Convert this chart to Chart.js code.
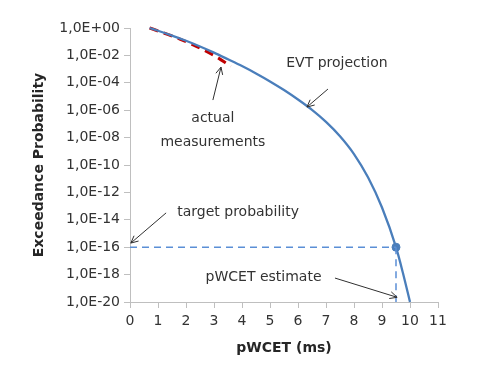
<!DOCTYPE html>
<html>
<head>
<meta charset="utf-8">
<script src="https://cdn.jsdelivr.net/npm/chart.js@4"></script>
<style>
    body { margin: 0; background: white; }
    canvas { display: block; }
</style>
</head>
<body>
<canvas id="chart" width="499" height="367"></canvas>
<script>
// DATA

// EVT projection curve (pWCET in ms, exceedance probability)
const evtTimes = [0.7, 1.0, 1.5, 2.0, 2.5, 3.0, 3.5, 4.0, 4.5, 5.0, 5.5, 6.0, 6.5, 7.0, 7.5, 8.0, 8.5, 9.0, 9.5, 9.75, 10.0];
const evtProbs = [1, 6.3e-1, 2.8e-1, 1.17e-1, 4.5e-2, 1.6e-2, 5.2e-3, 1.66e-3, 4.8e-4, 1.26e-4, 2.95e-5, 6e-6, 1.05e-6, 1.4e-7, 1.26e-8, 6.3e-10, 1.26e-11, 7.9e-14, 1e-16, 1.26e-18, 1e-20];

// actual measurements
const measuredTimes = [0.7, 1.8, 3.0, 3.6];
const measuredProbs = [1, 1.5e-1, 1e-2, 1.6e-3];

// target probability and the resulting estimate
const targetProb = 1e-16;
const pwcetEstimate = 9.5;

const yTickExponents = [0, -2, -4, -6, -8, -10, -12, -14, -16, -18, -20];
const xTicks = [0, 1, 2, 3, 4, 5, 6, 7, 8, 9, 10, 11];

// text notes with arrows, in data units
const notes = [
    { lines: [["EVT projection", 7.39, 2.8e-3]], from: [7.07, 3.5e-5], to: [6.32, 1.7e-6] },
    { lines: [["actual", 2.96, 2.7e-7], ["measurements", 2.96, 4.8e-9]], from: [2.96, 5.5e-6], to: [3.25, 1.4e-3] },
    { lines: [["target probability", 3.86, 3.7e-14]], from: [1.29, 3.2e-14], to: [0.03, 2e-16] },
    { lines: [["pWCET estimate", 4.77, 6.6e-19]], from: [7.32, 5.6e-19], to: [9.54, 2.2e-20] },
];

// HELPERS

const axisGray = "#bfbfbf";
const textGray = "#333333";
const lineBlue = "#4a7ebb";

function toPoints(xs, ys) {
    return xs.map((x, i) => ({ x: x, y: ys[i] }));
}

function formatProb(value) {
    const exp = Math.round(Math.log10(value));
    const sign = exp < 0 ? "-" : "+";
    const digits = String(Math.abs(exp)).padStart(2, "0");
    return "1,0E" + sign + digits;
}

function drawArrow(ctx, x1, y1, x2, y2) {
    const angle = Math.atan2(y2 - y1, x2 - x1);
    const head = 8;
    ctx.beginPath();
    ctx.moveTo(x1, y1);
    ctx.lineTo(x2, y2);
    ctx.moveTo(x2 - head * Math.cos(angle - 0.45), y2 - head * Math.sin(angle - 0.45));
    ctx.lineTo(x2, y2);
    ctx.lineTo(x2 - head * Math.cos(angle + 0.45), y2 - head * Math.sin(angle + 0.45));
    ctx.stroke();
}

const notesPlugin = {
    id: "notes",
    afterDatasetsDraw(chart) {
        const ctx = chart.ctx;
        const xs = chart.scales.x;
        const ys = chart.scales.y;
        ctx.save();
        ctx.font = "14px 'DejaVu Sans'";
        ctx.fillStyle = textGray;
        ctx.strokeStyle = "#303030";
        ctx.lineWidth = 1;
        ctx.textAlign = "center";
        ctx.textBaseline = "middle";
        notes.forEach(note => {
            note.lines.forEach(([text, x, y]) => {
                ctx.fillText(text, xs.getPixelForValue(x), ys.getPixelForValue(y));
            });
            drawArrow(ctx,
                xs.getPixelForValue(note.from[0]), ys.getPixelForValue(note.from[1]),
                xs.getPixelForValue(note.to[0]), ys.getPixelForValue(note.to[1]));
        });
        ctx.restore();
    }
};

// CHART

new Chart(document.getElementById("chart"), {
    type: "line",
    plugins: [notesPlugin],
    data: {
        datasets: [
            {
                data: [{ x: 0, y: targetProb }, { x: pwcetEstimate, y: targetProb }],
                borderColor: "#5b8fd6",
                borderWidth: 1.5,
                borderDash: [7, 5],
                pointRadius: 0,
            },
            {
                data: [{ x: pwcetEstimate, y: targetProb }, { x: pwcetEstimate, y: 1e-20 }],
                borderColor: "#5b8fd6",
                borderWidth: 1.5,
                borderDash: [7, 5],
                pointRadius: 0,
            },
            {
                data: toPoints(evtTimes, evtProbs),
                borderColor: lineBlue,
                borderWidth: 2.3,
                pointRadius: 0,
                cubicInterpolationMode: "monotone",
            },
            {
                data: toPoints(measuredTimes, measuredProbs),
                borderColor: "#c00000",
                borderWidth: 3,
                borderDash: [9, 6],
                pointRadius: 0,
                cubicInterpolationMode: "monotone",
            },
            {
                data: [{ x: pwcetEstimate, y: targetProb }],
                showLine: false,
                pointRadius: 4,
                pointBackgroundColor: lineBlue,
                pointBorderColor: lineBlue,
            },
        ]
    },
    options: {
        responsive: false,
        animation: false,
        devicePixelRatio: 1,
        clip: false,
        layout: {
            padding: { top: 28, right: 61, left: 0, bottom: 0 },
        },
        scales: {
            x: {
                type: "linear",
                min: 0,
                max: 11,
                afterFit: scale => { scale.height = 65; },
                afterBuildTicks: scale => { scale.ticks = xTicks.map(v => ({ value: v })); },
                border: { color: axisGray, width: 1 },
                grid: { drawOnChartArea: false, color: axisGray, tickLength: 6 },
                ticks: {
                    color: textGray,
                    font: { family: "DejaVu Sans", size: 14 },
                    padding: 5,
                },
                title: {
                    display: true,
                    text: "pWCET (ms)",
                    color: "#262626",
                    font: { family: "DejaVu Sans", size: 14, weight: "bold" },
                    padding: { bottom: 10 },
                },
            },
            y: {
                type: "logarithmic",
                min: 1e-20,
                max: 1,
                afterFit: scale => { scale.width = 130; },
                afterBuildTicks: scale => { scale.ticks = yTickExponents.map(e => ({ value: Math.pow(10, e) })); },
                border: { color: axisGray, width: 1 },
                grid: { drawOnChartArea: false, color: axisGray, tickLength: 6 },
                ticks: {
                    color: textGray,
                    font: { family: "DejaVu Sans", size: 14 },
                    padding: 4,
                    callback: value => formatProb(value),
                },
                title: {
                    display: true,
                    text: "Exceedance Probability",
                    color: "#262626",
                    font: { family: "DejaVu Sans", size: 14, weight: "bold" },
                    padding: { top: 31 },
                },
            },
        },
        plugins: {
            legend: { display: false },
            tooltip: { enabled: false },
        },
    }
});
</script>
</body>
</html>
